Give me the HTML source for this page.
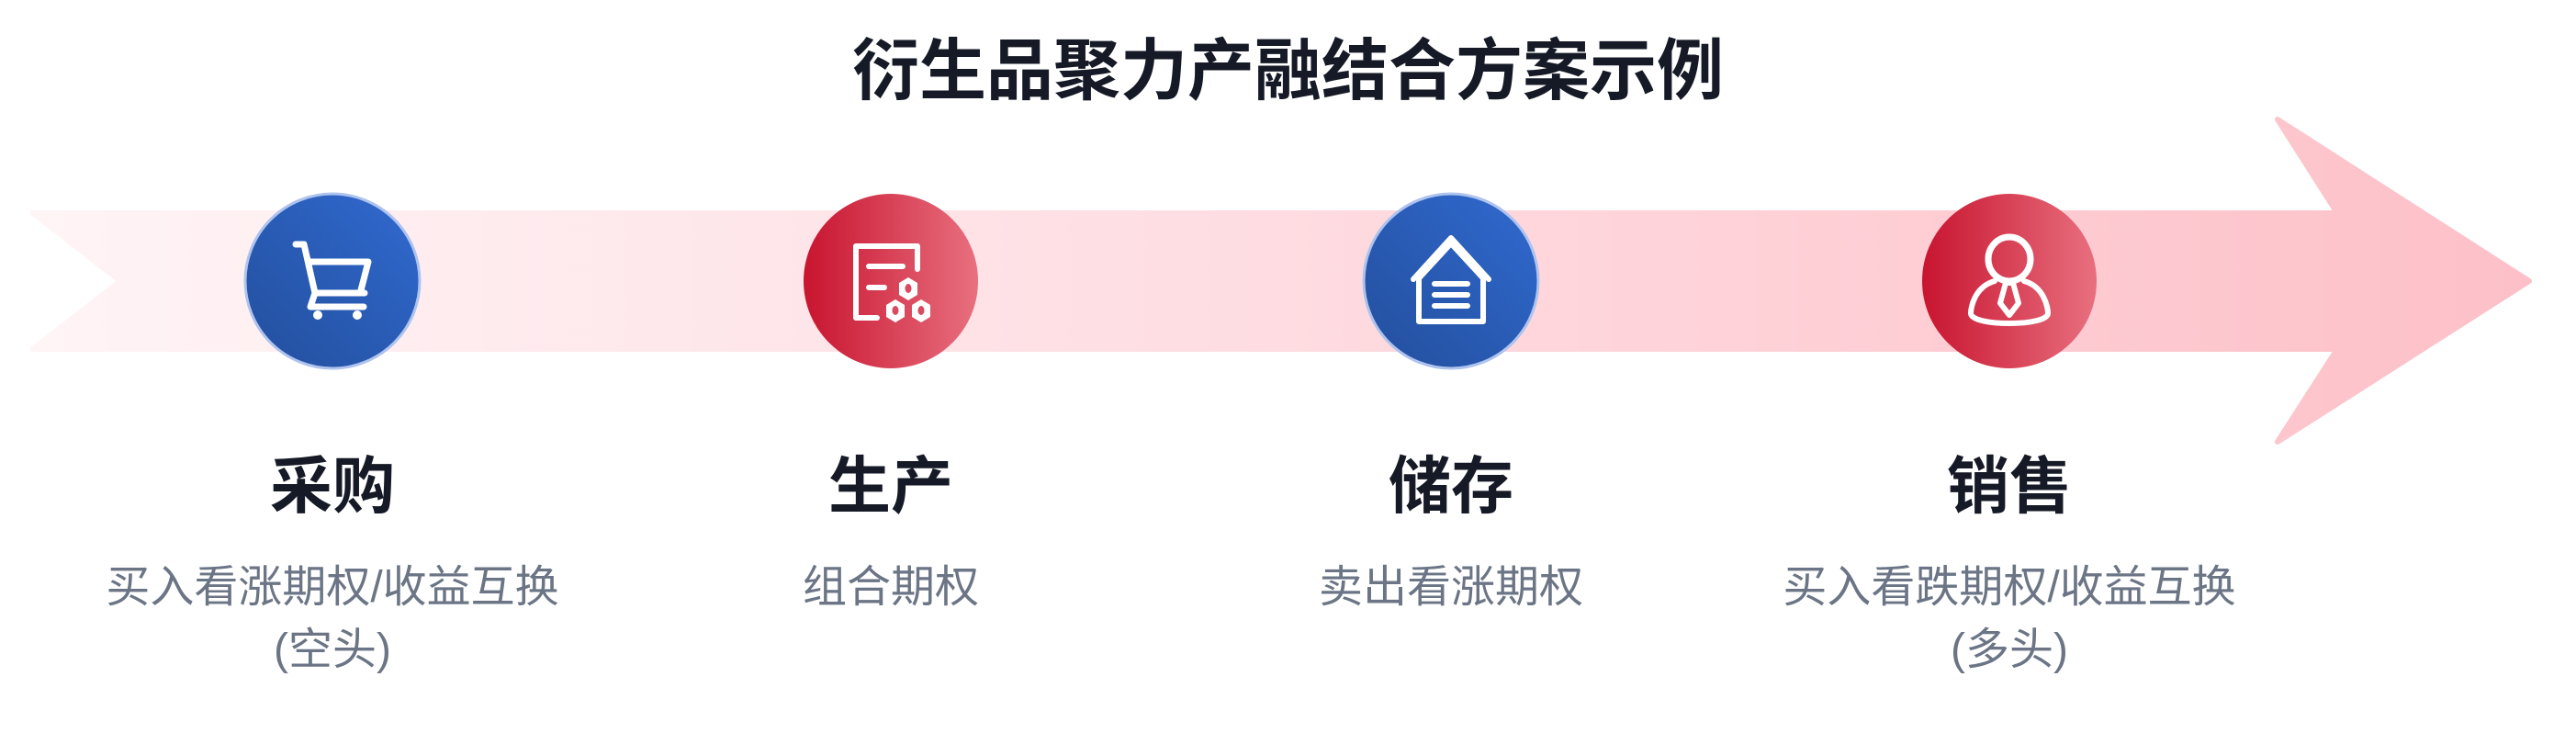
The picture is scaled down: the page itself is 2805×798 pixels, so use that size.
<!DOCTYPE html>
<html><head><meta charset="utf-8"><style>
html,body{margin:0;padding:0;background:#fff;}
body{width:2805px;height:798px;position:relative;overflow:hidden;font-family:"Liberation Sans","Noto Sans CJK SC",sans-serif;}
.t{position:absolute;left:0;width:2805px;text-align:center;top:30px;font-size:73px;font-weight:700;color:#151a26;line-height:96px;}
.lab{position:absolute;width:700px;text-align:center;}
.h{top:486px;font-size:68px;font-weight:700;color:#151a26;line-height:88px;}
.s{top:606px;font-size:48px;color:#6b7585;line-height:68px;}
</style></head><body>
<svg width="2805" height="798" style="position:absolute;left:0;top:0">
<defs>
<linearGradient id="band" x1="0" x2="1" y1="0" y2="0">
<stop offset="0" stop-color="#fff4f6"/><stop offset="0.5" stop-color="#fedce1"/><stop offset="1" stop-color="#fdc0c8"/></linearGradient>
<linearGradient id="blue" x1="0" y1="1" x2="1" y2="0"><stop offset="0" stop-color="#234e9c"/><stop offset="1" stop-color="#306ad0"/></linearGradient>
<linearGradient id="red" x1="0" y1="0" x2="1" y2="0"><stop offset="0" stop-color="#c8142f"/><stop offset="1" stop-color="#e8707f"/></linearGradient>
</defs>
<polygon points="36,232 2545,232 2480,130 2754,306 2480,481 2545,380 36,380 131,306" fill="url(#band)" stroke="url(#band)" stroke-width="6" stroke-linejoin="round"/>
<circle cx="362" cy="306" r="95" fill="url(#blue)" stroke="#aec3ee" stroke-width="3"/>
<circle cx="970" cy="306" r="95" fill="url(#red)"/>
<circle cx="1580" cy="306" r="95" fill="url(#blue)" stroke="#aec3ee" stroke-width="3"/>
<circle cx="2188" cy="306" r="95" fill="url(#red)"/>
<g fill="none" stroke="#fff" stroke-width="7" stroke-linecap="round" stroke-linejoin="round">
<path d="M322,266 L331,266 L343,319 L397,319 M336,285 L401,285 L393,316 M343,319 L338,334 L396,334"/>
<path d="M999,293 L999,268 L932,268 L932,346 L955,346 M946,290 L983,290 M946,313 L963,313" stroke-width="6"/>
<path d="M1545,350 L1545,303 L1580,265 L1615,303 L1615,350 Z M1539,304 L1580,259 L1621,304 M1562,309 L1598,309 M1562,321 L1598,321 M1562,333 L1598,333" stroke-width="6"/>
<ellipse cx="2188" cy="282" rx="23" ry="24"/>
<path d="M2172,306 C2150,312 2146,335 2146,341 C2146,348 2165,352 2188,352 C2211,352 2230,348 2230,341 C2230,335 2226,312 2204,306 M2184,308 L2178,330 L2188,343 L2198,330 L2192,308 Z" stroke-width="6"/>
</g>
<g fill="#fff">
<circle cx="346" cy="343" r="5"/><circle cx="389" cy="343" r="5"/>
<path d="M989,302 l10,6 v13 l-10,6 l-10,-6 v-13z M975,326 l10,6 v13 l-10,6 l-10,-6 v-13z M1003,326 l10,6 v13 l-10,6 l-10,-6 v-13z"/>
</g>
<g fill="#d94a60"><ellipse cx="989" cy="314" rx="3.5" ry="5"/><ellipse cx="975" cy="338" rx="3.5" ry="5"/><ellipse cx="1003" cy="338" rx="3.5" ry="5"/></g>
</svg>
<div class="t">衍生品聚力产融结合方案示例</div>
<div class="lab h" style="left:12px">采购</div>
<div class="lab s" style="left:12px">买入看涨期权/收益互换<br>(空头)</div>
<div class="lab h" style="left:620px">生产</div>
<div class="lab s" style="left:620px">组合期权</div>
<div class="lab h" style="left:1230px">储存</div>
<div class="lab s" style="left:1230px">卖出看涨期权</div>
<div class="lab h" style="left:1838px">销售</div>
<div class="lab s" style="left:1838px">买入看跌期权/收益互换<br>(多头)</div>
</body></html>
